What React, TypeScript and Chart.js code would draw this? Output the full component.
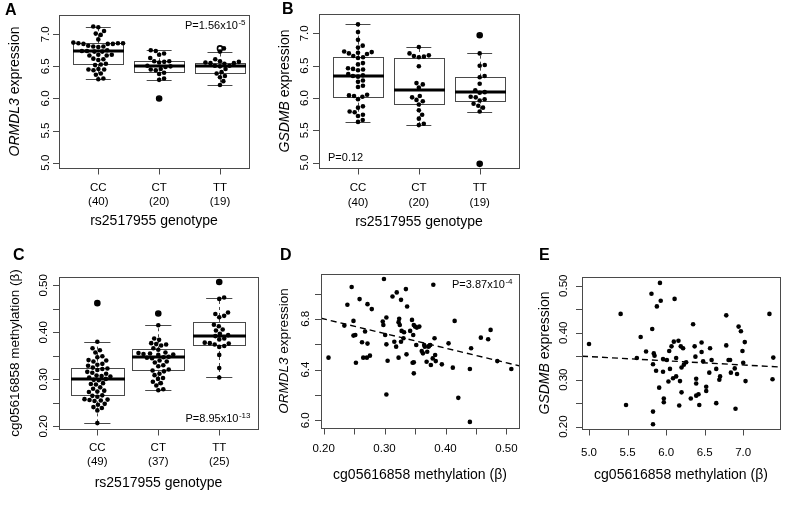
import React, { useEffect, useRef } from "react";
import { Chart, registerables } from "chart.js";
Chart.register(...registerables);

const FONT = '"Liberation Sans", Arial, Helvetica, sans-serif';

// ---------- categories ----------
const GENOTYPES = ["CC", "CT", "TT"];
const A_N = ["(40)", "(20)", "(19)"];
const C_N = ["(49)", "(37)", "(25)"];

// ---------- Panel A: ORMDL3 expression by genotype ----------
const A_CC = [7.12, 7.11, 7.05, 7.01, 6.99, 6.92, 6.87, 6.86, 6.86, 6.86, 6.85, 6.85, 6.85, 6.82, 6.81, 6.81, 6.8, 6.75, 6.74, 6.74, 6.73, 6.73, 6.68, 6.68, 6.67, 6.67, 6.62, 6.61, 6.6, 6.54, 6.53, 6.52, 6.46, 6.45, 6.45, 6.44, 6.39, 6.37, 6.31, 6.3];
const A_CT = [6.0, 6.29, 6.31, 6.38, 6.4, 6.44, 6.45, 6.46, 6.49, 6.5, 6.51, 6.56, 6.57, 6.58, 6.58, 6.63, 6.68, 6.7, 6.74, 6.75];
const A_TT = [6.21, 6.27, 6.33, 6.35, 6.39, 6.41, 6.46, 6.5, 6.51, 6.51, 6.54, 6.55, 6.55, 6.56, 6.57, 6.58, 6.61, 6.73, 6.78];
const A_STATS = [
  [6.3, 6.53, 6.74, 6.86, 7.12],
  [6.29, 6.42, 6.5, 6.58, 6.75],
  [6.21, 6.39, 6.51, 6.56, 6.73],
];
const A_OUT = [[], [6.0], [6.78]];

// ---------- Panel B: GSDMB expression by genotype ----------
const B_CC = [5.63, 5.66, 5.72, 5.74, 5.78, 5.79, 5.85, 5.87, 5.98, 6.02, 6.03, 6.04, 6.05, 6.17, 6.19, 6.25, 6.27, 6.33, 6.34, 6.35, 6.37, 6.43, 6.44, 6.45, 6.46, 6.52, 6.54, 6.62, 6.63, 6.65, 6.68, 6.69, 6.7, 6.71, 6.72, 6.78, 6.81, 6.9, 7.02, 7.14];
const B_CT = [5.58, 5.6, 5.68, 5.74, 5.81, 5.9, 5.95, 5.97, 6.01, 6.03, 6.16, 6.21, 6.23, 6.49, 6.63, 6.64, 6.65, 6.66, 6.69, 6.79];
const B_TT = [4.98, 5.79, 5.85, 5.88, 5.91, 5.96, 5.98, 6.01, 6.02, 6.09, 6.08, 6.12, 6.22, 6.32, 6.34, 6.5, 6.51, 6.69, 6.97];
const B_STATS = [
  [5.63, 6.02, 6.34, 6.64, 7.14],
  [5.58, 5.91, 6.12, 6.62, 6.79],
  [5.79, 5.96, 6.09, 6.33, 6.69],
];
const B_OUT = [[], [], [6.97, 4.98]];

// ---------- Panel C: cg05616858 methylation by genotype ----------
const C_CC = [0.207, 0.234, 0.239, 0.241, 0.246, 0.248, 0.254, 0.255, 0.256, 0.257, 0.258, 0.263, 0.265, 0.266, 0.273, 0.274, 0.276, 0.28, 0.283, 0.289, 0.29, 0.292, 0.298, 0.299, 0.301, 0.304, 0.306, 0.307, 0.308, 0.312, 0.314, 0.316, 0.32, 0.322, 0.323, 0.325, 0.329, 0.331, 0.333, 0.338, 0.34, 0.341, 0.347, 0.349, 0.357, 0.362, 0.366, 0.38, 0.462];
const C_CT = [0.277, 0.279, 0.287, 0.292, 0.295, 0.301, 0.303, 0.309, 0.312, 0.317, 0.319, 0.321, 0.328, 0.33, 0.336, 0.338, 0.34, 0.345, 0.346, 0.347, 0.348, 0.352, 0.353, 0.354, 0.355, 0.356, 0.357, 0.363, 0.366, 0.372, 0.374, 0.375, 0.377, 0.384, 0.387, 0.415, 0.44];
const C_TT = [0.304, 0.324, 0.352, 0.369, 0.371, 0.374, 0.376, 0.377, 0.378, 0.385, 0.387, 0.392, 0.394, 0.397, 0.404, 0.406, 0.413, 0.416, 0.432, 0.435, 0.439, 0.442, 0.471, 0.474, 0.507];
const C_STATS = [
  [0.207, 0.266, 0.3, 0.325, 0.38],
  [0.278, 0.32, 0.347, 0.364, 0.415],
  [0.304, 0.373, 0.393, 0.422, 0.473],
];
const C_OUT = [[0.462], [0.44], [0.507]];

// ---------- Panel D: ORMDL3 expression vs methylation ----------
const D_X = [0.208, 0.234, 0.239, 0.246, 0.249, 0.249, 0.252, 0.253, 0.259, 0.263, 0.268, 0.265, 0.271, 0.276, 0.272, 0.279, 0.272, 0.299, 0.297, 0.298, 0.301, 0.303, 0.303, 0.305, 0.303, 0.313, 0.32, 0.323, 0.325, 0.319, 0.316, 0.327, 0.324, 0.323, 0.328, 0.327, 0.331, 0.332, 0.335, 0.336, 0.337, 0.342, 0.345, 0.346, 0.347, 0.348, 0.35, 0.348, 0.348, 0.352, 0.353, 0.357, 0.361, 0.363, 0.365, 0.366, 0.369, 0.37, 0.372, 0.373, 0.376, 0.375, 0.379, 0.38, 0.382, 0.383, 0.384, 0.394, 0.405, 0.412, 0.415, 0.421, 0.44, 0.442, 0.44, 0.458, 0.47, 0.474, 0.485, 0.508];
const D_Y = [6.494, 6.747, 6.911, 7.051, 6.784, 6.668, 6.673, 6.454, 6.956, 6.615, 6.7, 6.494, 6.494, 6.51, 6.916, 6.877, 6.605, 7.114, 6.779, 6.752, 6.673, 6.811, 6.599, 6.47, 6.203, 6.977, 7.009, 6.774, 6.752, 6.581, 6.62, 6.95, 6.8, 6.494, 6.705, 6.62, 6.647, 6.694, 7.035, 6.52, 6.898, 6.705, 6.792, 6.454, 6.673, 6.752, 6.739, 6.37, 6.457, 6.594, 6.731, 6.739, 6.547, 6.528, 6.594, 6.581, 6.462, 6.541, 6.581, 6.586, 6.436, 6.594, 6.488, 7.069, 6.647, 6.515, 6.467, 6.441, 6.607, 6.415, 6.784, 6.177, 6.404, 6.568, 5.987, 6.652, 6.639, 6.713, 6.467, 6.404];
const D_FIT_X = [0.1957, 0.5206];
const D_FIT_Y = [6.805, 6.43];

// ---------- Panel E: GSDMB expression vs methylation (axes as printed) ----------
const E_X = [5.0, 5.41, 5.48, 5.62, 5.67, 5.74, 5.81, 5.82, 5.84, 5.85, 5.83, 5.83, 5.83, 5.88, 5.87, 5.92, 5.93, 5.91, 5.96, 5.96, 5.97, 5.97, 6.01, 6.03, 6.04, 6.05, 6.07, 6.09, 6.1, 6.11, 6.13, 6.13, 6.16, 6.17, 6.18, 6.19, 6.2, 6.2, 6.22, 6.23, 6.26, 6.32, 6.35, 6.37, 6.38, 6.39, 6.39, 6.39, 6.42, 6.43, 6.46, 6.46, 6.48, 6.52, 6.52, 6.56, 6.57, 6.59, 6.65, 6.65, 6.69, 6.7, 6.78, 6.78, 6.81, 6.83, 6.84, 6.89, 6.9, 6.92, 6.94, 6.97, 6.99, 7.0, 7.02, 7.03, 7.34, 7.39, 7.38];
const E_Y = [0.376, 0.44, 0.246, 0.346, 0.391, 0.36, 0.483, 0.408, 0.356, 0.351, 0.333, 0.232, 0.205, 0.456, 0.319, 0.506, 0.468, 0.283, 0.344, 0.317, 0.26, 0.252, 0.342, 0.296, 0.361, 0.323, 0.371, 0.303, 0.381, 0.472, 0.307, 0.346, 0.383, 0.245, 0.297, 0.371, 0.326, 0.273, 0.367, 0.332, 0.337, 0.26, 0.418, 0.371, 0.349, 0.302, 0.292, 0.266, 0.269, 0.246, 0.379, 0.359, 0.339, 0.285, 0.276, 0.315, 0.367, 0.342, 0.323, 0.25, 0.3, 0.307, 0.437, 0.373, 0.342, 0.342, 0.315, 0.324, 0.238, 0.312, 0.413, 0.403, 0.361, 0.336, 0.38, 0.297, 0.44, 0.347, 0.301];
const E_FIT_X = [4.909, 7.477];
const E_FIT_Y = [0.35, 0.327];

// ---------- axis ticks ----------
const AB_Y_TICKS = [5.0, 5.5, 6.0, 6.5, 7.0];
const AB_Y_LAB = ["5.0", "5.5", "6.0", "6.5", "7.0"];
const GROUP_TICKS = [1, 2, 3];
const C_Y_TICKS = [0.2, 0.25, 0.3, 0.35, 0.4, 0.45, 0.5];
const C_Y_LAB_V = [0.2, 0.3, 0.4, 0.5];
const C_Y_LAB = ["0.20", "0.30", "0.40", "0.50"];
const D_Y_TICKS = [6.0, 6.2, 6.4, 6.6, 6.8, 7.0];
const D_Y_LAB_V = [6.0, 6.4, 6.8];
const D_Y_LAB = ["6.0", "6.4", "6.8"];
const D_X_TICKS = [0.2, 0.25, 0.3, 0.35, 0.4, 0.45, 0.5];
const D_X_LAB_V = [0.2, 0.3, 0.4, 0.5];
const D_X_LAB = ["0.20", "0.30", "0.40", "0.50"];
const E_X_TICKS = [5.0, 5.5, 6.0, 6.5, 7.0];
const E_X_LAB = ["5.0", "5.5", "6.0", "6.5", "7.0"];
const E_Y_TICKS = [0.2, 0.25, 0.3, 0.35, 0.4, 0.45, 0.5];
const E_Y_LAB_V = [0.2, 0.3, 0.4, 0.5];
const E_Y_LAB = ["0.20", "0.30", "0.40", "0.50"];

type Part = { t: string; i?: boolean };
type Cfg = {
  letter: string;
  letterXY: [number, number];
  canvas: [number, number, number, number];
  box: [number, number, number, number];
  xr: [number, number];
  yr: [number, number];
  yTicks: number[];
  yLabV: number[];
  yLabT: string[];
  yLabGap: number;
  xTicks: number[];
  xLabV: number[];
  xLabT: string[][];
  xLabDy: number[];
  yTitle: Part[];
  yTitleX: number;
  yTitleSize: number;
  xTitle: Part[];
  xTitleDy: number;
  p?: { main: string; sup?: string; x: number; y: number; align: "left" | "right" };
  groups?: number[][];
  outliers?: number[][];
  stats?: number[][];
  half?: number;
  sx?: number[];
  sy?: number[];
  fitX?: number[];
  fitY?: number[];
};

const METH_TITLE: Part[] = [{ t: "cg05616858 methylation (β)" }];
const GENO_TITLE: Part[] = [{ t: "rs2517955 genotype" }];
const ORMDL3_TITLE: Part[] = [{ t: "ORMDL3", i: true }, { t: " expression" }];
const GSDMB_TITLE: Part[] = [{ t: "GSDMB", i: true }, { t: " expression" }];

const PANELS: Cfg[] = [
  {
    letter: "A", letterXY: [5, 15],
    canvas: [0, 0, 270, 240], box: [59, 15, 249, 168],
    xr: [0.354, 3.477], yr: [4.917, 7.3],
    yTicks: AB_Y_TICKS, yLabV: AB_Y_TICKS, yLabT: AB_Y_LAB, yLabGap: 10,
    xTicks: GROUP_TICKS, xLabV: GROUP_TICKS, xLabT: GENOTYPES.map((g, i) => [g, A_N[i]]), xLabDy: [19.5, 33.5],
    yTitle: ORMDL3_TITLE, yTitleX: 15, yTitleSize: 14,
    xTitle: GENO_TITLE, xTitleDy: 53.5,
    p: { main: "P=1.56x10", sup: "-5", x: 245, y: 29, align: "right" },
    groups: [A_CC, A_CT, A_TT], outliers: A_OUT, stats: A_STATS, half: 0.41,
  },
  {
    letter: "B", letterXY: [282, 14],
    canvas: [270, 0, 270, 240], box: [319, 14, 519, 168],
    xr: [0.359, 3.646], yr: [4.916, 7.3],
    yTicks: AB_Y_TICKS, yLabV: AB_Y_TICKS, yLabT: AB_Y_LAB, yLabGap: 11,
    xTicks: GROUP_TICKS, xLabV: GROUP_TICKS, xLabT: GENOTYPES.map((g, i) => [g, A_N[i]]), xLabDy: [20, 35],
    yTitle: GSDMB_TITLE, yTitleX: 285, yTitleSize: 14,
    xTitle: GENO_TITLE, xTitleDy: 54,
    p: { main: "P=0.12", x: 328, y: 161, align: "left" },
    groups: [B_CC, B_CT, B_TT], outliers: B_OUT, stats: B_STATS, half: 0.41,
  },
  {
    letter: "C", letterXY: [13, 260],
    canvas: [0, 240, 270, 270], box: [59, 277, 258, 429],
    xr: [0.371, 3.636], yr: [0.1945, 0.5176],
    yTicks: C_Y_TICKS, yLabV: C_Y_LAB_V, yLabT: C_Y_LAB, yLabGap: 12,
    xTicks: GROUP_TICKS, xLabV: GROUP_TICKS, xLabT: GENOTYPES.map((g, i) => [g, C_N[i]]), xLabDy: [18.5, 32.5],
    yTitle: METH_TITLE, yTitleX: 15, yTitleSize: 13.5,
    xTitle: GENO_TITLE, xTitleDy: 54,
    p: { main: "P=8.95x10", sup: "-13", x: 250, y: 422, align: "right" },
    groups: [C_CC, C_CT, C_TT], outliers: C_OUT, stats: C_STATS, half: 0.43,
  },
  {
    letter: "D", letterXY: [280, 260],
    canvas: [270, 240, 265, 270], box: [321, 274, 519, 428],
    xr: [0.1957, 0.5206], yr: [5.939, 7.154],
    yTicks: D_Y_TICKS, yLabV: D_Y_LAB_V, yLabT: D_Y_LAB, yLabGap: 12,
    xTicks: D_X_TICKS, xLabV: D_X_LAB_V, xLabT: D_X_LAB.map((t) => [t]), xLabDy: [21],
    yTitle: ORMDL3_TITLE, yTitleX: 284, yTitleSize: 13.5,
    xTitle: METH_TITLE, xTitleDy: 47,
    p: { main: "P=3.87x10", sup: "-4", x: 512, y: 288, align: "right" },
    sx: D_X, sy: D_Y, fitX: D_FIT_X, fitY: D_FIT_Y,
  },
  {
    letter: "E", letterXY: [539, 260],
    canvas: [535, 240, 255, 270], box: [582, 277, 780, 429],
    xr: [4.909, 7.477], yr: [0.195, 0.5186],
    yTicks: E_Y_TICKS, yLabV: E_Y_LAB_V, yLabT: E_Y_LAB, yLabGap: 15,
    xTicks: E_X_TICKS, xLabV: E_X_TICKS, xLabT: E_X_LAB.map((t) => [t]), xLabDy: [24],
    yTitle: GSDMB_TITLE, yTitleX: 545, yTitleSize: 14,
    xTitle: METH_TITLE, xTitleDy: 46,
    sx: E_X, sy: E_Y, fitX: E_FIT_X, fitY: E_FIT_Y,
  },
];

// beeswarm ("swarm") layout: horizontal pixel offsets so dots do not overlap
function swarmOffsets(vals: number[], pxPerY: number, d: number): number[] {
  const idx = vals.map((_, i) => i).sort((a, b) => vals[a] - vals[b]);
  const placed: { x: number; y: number }[] = [];
  const out = new Array(vals.length).fill(0);
  for (const i of idx) {
    const y = vals[i] * pxPerY;
    const near = placed.filter((p) => Math.abs(p.y - y) < d);
    const cands = [0];
    for (const p of near) {
      const dx = Math.sqrt(d * d - (p.y - y) * (p.y - y));
      cands.push(p.x + dx, p.x - dx);
    }
    cands.sort((a, b) => Math.abs(a) - Math.abs(b));
    let chosen = 0;
    for (const c of cands) {
      if (near.every((p) => (p.x - c) ** 2 + (p.y - y) ** 2 >= d * d - 1e-6)) {
        chosen = c;
        break;
      }
    }
    placed.push({ x: chosen, y });
    out[i] = chosen;
  }
  return out;
}

const LINE = "#4a4a4a";
const TICK = 6;
const h = (v: number) => Math.round(v) + 0.5;

function drawParts(ctx: CanvasRenderingContext2D, parts: Part[], size: number, x: number, y: number, rot: boolean) {
  ctx.save();
  ctx.translate(x, y);
  if (rot) ctx.rotate(-Math.PI / 2);
  const fonts = parts.map((p) => `${p.i ? "italic " : ""}${size}px ${FONT}`);
  let total = 0;
  const widths = parts.map((p, k) => {
    ctx.font = fonts[k];
    const w = ctx.measureText(p.t).width;
    total += w;
    return w;
  });
  let cx = -total / 2;
  ctx.textBaseline = "middle";
  ctx.textAlign = "left";
  ctx.fillStyle = "#000";
  parts.forEach((p, k) => {
    ctx.font = fonts[k];
    ctx.fillText(p.t, cx, 0);
    cx += widths[k];
  });
  ctx.restore();
}

function makePlugin(cfg: Cfg) {
  return {
    id: "rstyle" + cfg.letter,
    beforeDatasetsDraw(chart: any) {
      if (!cfg.stats) return;
      const { ctx } = chart;
      const xs = chart.scales.x;
      const ys = chart.scales.y;
      const hw = cfg.half || 0.4;
      ctx.save();
      cfg.stats.forEach((s, g) => {
        const c = g + 1;
        const xl = Math.round(xs.getPixelForValue(c - hw));
        const xr = Math.round(xs.getPixelForValue(c + hw));
        const xc = xs.getPixelForValue(c);
        const sl = xs.getPixelForValue(c - hw / 2);
        const sr = xs.getPixelForValue(c + hw / 2);
        const [lo, q1, md, q3, hi] = s.map((v) => ys.getPixelForValue(v));
        ctx.strokeStyle = LINE;
        ctx.lineWidth = 1;
        ctx.setLineDash([3, 3]);
        ctx.beginPath();
        ctx.moveTo(h(xc), q3);
        ctx.lineTo(h(xc), hi);
        ctx.moveTo(h(xc), q1);
        ctx.lineTo(h(xc), lo);
        ctx.stroke();
        ctx.setLineDash([]);
        ctx.beginPath();
        ctx.moveTo(sl, h(hi));
        ctx.lineTo(sr, h(hi));
        ctx.moveTo(sl, h(lo));
        ctx.lineTo(sr, h(lo));
        ctx.stroke();
        ctx.strokeRect(xl + 0.5, h(q3), xr - xl, Math.round(q1) - Math.round(q3));
        ctx.strokeStyle = "#000";
        ctx.lineWidth = 3;
        ctx.beginPath();
        ctx.moveTo(xl, Math.round(md));
        ctx.lineTo(xr + 1, Math.round(md));
        ctx.stroke();
      });
      ctx.restore();
    },
    afterDraw(chart: any) {
      const { ctx, chartArea: a } = chart;
      const xs = chart.scales.x;
      const ys = chart.scales.y;
      const ox = cfg.canvas[0];
      const oy = cfg.canvas[1];
      ctx.save();
      // frame
      ctx.strokeStyle = LINE;
      ctx.lineWidth = 1;
      ctx.strokeRect(h(a.left), h(a.top), Math.round(a.right - a.left), Math.round(a.bottom - a.top));
      // ticks
      ctx.beginPath();
      cfg.yTicks.forEach((v) => {
        const yy = h(ys.getPixelForValue(v));
        ctx.moveTo(a.left - TICK, yy);
        ctx.lineTo(a.left + 0.5, yy);
      });
      cfg.xTicks.forEach((v) => {
        const xx = h(xs.getPixelForValue(v));
        ctx.moveTo(xx, a.bottom);
        ctx.lineTo(xx, a.bottom + TICK + 0.5);
      });
      ctx.stroke();
      // y tick labels (rotated, R style)
      ctx.fillStyle = "#000";
      ctx.font = `11.5px ${FONT}`;
      cfg.yLabV.forEach((v, k) => {
        const yy = ys.getPixelForValue(v);
        ctx.save();
        ctx.translate(a.left - cfg.yLabGap, yy);
        ctx.rotate(-Math.PI / 2);
        ctx.textAlign = "center";
        ctx.textBaseline = "alphabetic";
        ctx.fillText(cfg.yLabT[k], 0, 0);
        ctx.restore();
      });
      // x tick labels
      ctx.textAlign = "center";
      ctx.textBaseline = "middle";
      cfg.xLabV.forEach((v, k) => {
        const xx = xs.getPixelForValue(v);
        cfg.xLabT[k].forEach((line, j) => {
          ctx.fillText(line, xx, a.bottom + cfg.xLabDy[j]);
        });
      });
      // axis titles
      drawParts(ctx, cfg.yTitle, cfg.yTitleSize, cfg.yTitleX - ox, (a.top + a.bottom) / 2, true);
      drawParts(ctx, cfg.xTitle, 14, (a.left + a.right) / 2, a.bottom + cfg.xTitleDy, false);
      // panel letter
      ctx.font = `bold 16px ${FONT}`;
      ctx.textAlign = "left";
      ctx.textBaseline = "alphabetic";
      ctx.fillText(cfg.letter, cfg.letterXY[0] - ox, cfg.letterXY[1] - oy);
      // P value
      if (cfg.p) {
        const p = cfg.p;
        ctx.font = `11px ${FONT}`;
        const wm = ctx.measureText(p.main).width;
        ctx.font = `8px ${FONT}`;
        const ws = p.sup ? ctx.measureText(p.sup).width : 0;
        const x0 = p.align === "right" ? p.x - ox - wm - ws : p.x - ox;
        ctx.textAlign = "left";
        ctx.font = `11px ${FONT}`;
        ctx.fillText(p.main, x0, p.y - oy);
        if (p.sup) {
          ctx.font = `8px ${FONT}`;
          ctx.fillText(p.sup, x0 + wm + 0.5, p.y - oy - 4.5);
        }
      }
      ctx.restore();
    },
  };
}

function buildDatasets(cfg: Cfg): any[] {
  const [l, t, r, b] = cfg.box;
  const pxPerY = (b - t) / (cfg.yr[1] - cfg.yr[0]);
  const pxPerX = (r - l) / (cfg.xr[1] - cfg.xr[0]);
  if (cfg.groups) {
    const pts: { x: number; y: number }[] = [];
    cfg.groups.forEach((vals, g) => {
      const offs = swarmOffsets(vals, pxPerY, 5.1);
      vals.forEach((v, k) => pts.push({ x: g + 1 + offs[k] / pxPerX, y: v }));
    });
    const outs: { x: number; y: number }[] = [];
    (cfg.outliers || []).forEach((vals, g) => vals.forEach((v) => outs.push({ x: g + 1, y: v })));
    return [
      {
        data: pts,
        pointRadius: 2.3,
        pointBackgroundColor: "#000",
        pointBorderWidth: 0,
        pointBorderColor: "#000",
      },
      {
        data: outs,
        pointRadius: 2.5,
        pointBackgroundColor: "rgba(0,0,0,0)",
        pointBorderWidth: 1.6,
        pointBorderColor: "#000",
      },
    ];
  }
  const pts = (cfg.sx || []).map((x, i) => ({ x, y: (cfg.sy || [])[i] }));
  const fit = (cfg.fitX || []).map((x, i) => ({ x, y: (cfg.fitY || [])[i] }));
  return [
    {
      data: pts,
      pointRadius: 2.3,
      pointBackgroundColor: "#000",
      pointBorderWidth: 0,
      pointBorderColor: "#000",
    },
    {
      type: "line",
      data: fit,
      borderColor: "#000",
      borderWidth: 1.4,
      borderDash: [6, 4],
      pointRadius: 0,
      fill: false,
      showLine: true,
    },
  ];
}

function Panel({ cfg }: { cfg: Cfg }) {
  const ref = useRef<HTMLCanvasElement>(null);
  const [cx, cy, cw, ch] = cfg.canvas;
  const [l, t, r, b] = cfg.box;
  useEffect(() => {
    const chart = new Chart(ref.current as HTMLCanvasElement, {
      type: "scatter",
      data: { datasets: buildDatasets(cfg) },
      options: {
        responsive: false,
        animation: false,
        devicePixelRatio: 1,
        events: [],
        layout: { padding: { left: l - cx, top: t - cy, right: cx + cw - r, bottom: cy + ch - b } },
        scales: {
          x: { type: "linear", min: cfg.xr[0], max: cfg.xr[1], display: false },
          y: { type: "linear", min: cfg.yr[0], max: cfg.yr[1], display: false },
        },
        plugins: { legend: { display: false }, tooltip: { enabled: false } },
      },
      plugins: [makePlugin(cfg)],
    } as any);
    return () => chart.destroy();
  }, []);
  return (
    <canvas
      ref={ref}
      width={cw}
      height={ch}
      style={{ position: "absolute", left: cx, top: cy, width: cw, height: ch }}
    />
  );
}

export default function App() {
  return (
    <div style={{ position: "absolute", left: 0, top: 0, width: 790, height: 510, background: "#fff" }}>
      {PANELS.map((cfg) => (
        <Panel key={cfg.letter} cfg={cfg} />
      ))}
    </div>
  );
}
